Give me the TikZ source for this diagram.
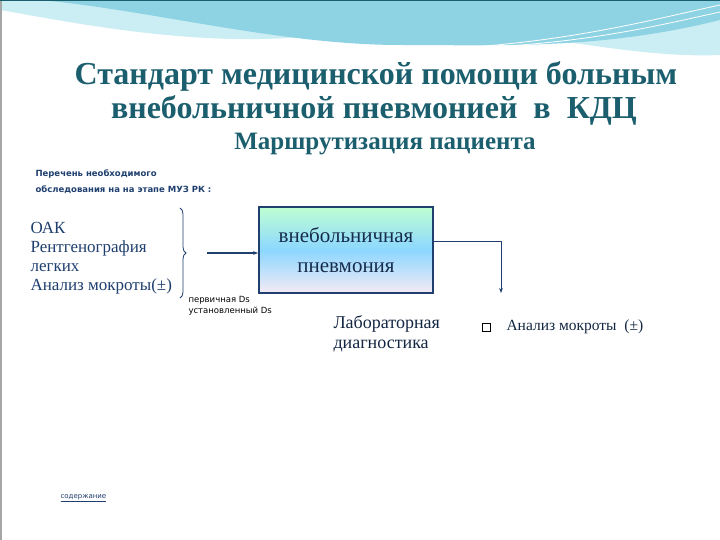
\documentclass[tikz,border=0pt]{standalone}
\usepackage{fontspec}
\setmainfont{Liberation Serif}
\newfontfamily\sansf{DejaVu Sans}
\usetikzlibrary{arrows.meta,decorations.pathreplacing}
\definecolor{teal}{HTML}{1B5E6E}
\definecolor{navy}{HTML}{1F3F6E}
\definecolor{wave}{HTML}{8ED3E3}
\definecolor{wavel}{HTML}{CBEDF4}
\tikzset{
  title/.style={text=teal,font=\bfseries\fontsize{32}{36}\selectfont,align=center},
  body/.style={text=black,font=\fontsize{17}{19}\selectfont,align=left,anchor=north west},
  small/.style={text=black,font=\sansf\fontsize{8.5}{11}\selectfont,align=left,anchor=north west},
  conn/.style={navy,line width=1.2pt,-{Stealth[length=5pt]}}
}
\begin{document}
\begin{tikzpicture}[x=1pt,y=-1pt]
\useasboundingbox (0,0) rectangle (720,540);
\fill[white] (0,0) rectangle (720,540);
% header waves
\fill[wavel] (0,0) -- (720,0) -- (720,55) .. controls (600,60) and (480,10) .. (320,35) .. controls (200,50) and (60,20) .. (0,10) -- cycle;
\fill[wave] (40,0) -- (720,0) -- (720,20) .. controls (600,50) and (500,45) .. (400,45) .. controls (280,45) and (150,10) .. (40,0) -- cycle;
\draw[white,line width=0.8pt] (420,50) .. controls (560,45) and (650,20) .. (720,5);
\draw[white,line width=0.8pt] (440,48) .. controls (570,48) and (660,25) .. (720,12);
\draw[gray!70,line width=1.5pt] (1,0) -- (1,540);
\draw[teal,line width=1pt] (0,0.5) -- (720,0.5);
% titles
\node[title] (t1) at (376,76) {Стандарт медицинской помощи больным};
\node[title] (t2) at (374,110) {внебольничной пневмонией \ в \ КДЦ};
\node[title,font=\bfseries\fontsize{25}{28}\selectfont] (t3) at (385,144) {Маршрутизация пациента};
\node[text=navy,font=\sansf\bfseries\fontsize{8.5}{16}\selectfont,align=left,anchor=north west] (pl) at (32,166) {Перечень необходимого\\ обследования на на этапе МУЗ РК :};
\node[body,text=navy] (lst) at (27,219) {ОАК\\Рентгенография\\легких\\Анализ мокроты(±)};
\draw[navy,line width=0.8pt,decorate,decoration={brace,amplitude=6pt}] (180,208) -- (180,298) coordinate[midway] (bm);
\coordinate (ba) at (207,253);
\node[draw=navy,line width=2pt,minimum width=174pt,minimum height=86pt,
  shading=axis,top color=cyan!30!green!25,bottom color=violet!8,middle color=blue!35!cyan!45,
  font=\fontsize{21}{30}\selectfont,align=center,text=navy!70!black] (box) at (346,250) {внебольничная\\пневмония};
\draw[conn] (ba) -- (ba -| box.west);
\node[small] (ds) at (185,293) {первичная Ds\\установленный Ds};
\coordinate (c1) at (501,241);
\coordinate (c2) at (501,293);
\draw[conn,line width=1pt] (box.east |- c1) -- (c1) -- (c2);
\node[body,font=\fontsize{18}{20}\selectfont,text=navy!60!black] (lab) at (330,312) {Лабораторная\\диагностика};
\node[draw=black,line width=1pt,minimum size=8pt,inner sep=0pt] (sq) at (486,327) {};
\node[anchor=west,font=\fontsize{15.5}{17}\selectfont,text=navy!60!black] (am) at (503,327) {Анализ мокроты \ (±)};
\node[anchor=west,font=\sansf\fontsize{7}{8}\selectfont,text=navy] (sod) at (57,498) {\underline{содержание}};
\end{tikzpicture}
\end{document}
